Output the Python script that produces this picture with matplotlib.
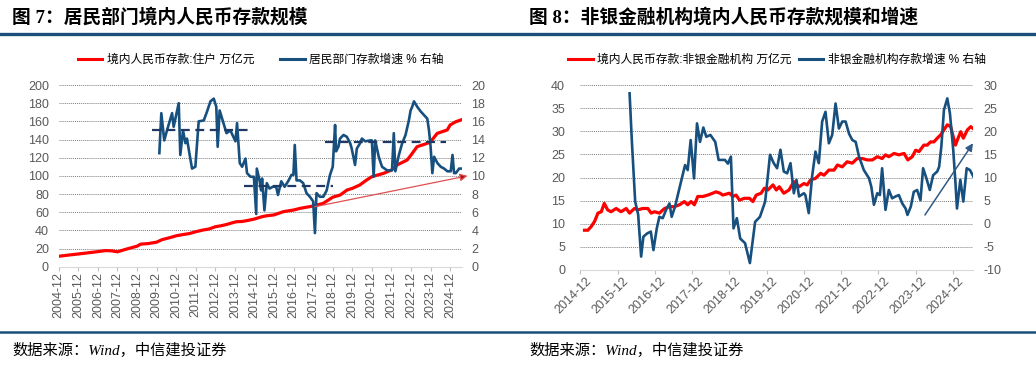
"""Two-panel deposit chart: household / non-bank RMB deposits and growth."""
import matplotlib
matplotlib.use("Agg")
import matplotlib.pyplot as plt
from matplotlib.lines import Line2D
from matplotlib.transforms import ScaledTranslation

plt.rcParams['font.family'] = ['Liberation Sans', 'Noto Sans CJK SC', 'DejaVu Sans']
plt.rcParams['axes.unicode_minus'] = False

# ---- panel 1: household deposits (万亿元, left) and growth (%, right) ----
hh_dep_x = [2004.92, 2005.5, 2005.92, 2006.5, 2006.92, 2007.3, 2007.6, 2007.92, 2008.3, 2008.92,
            2009.1, 2009.5, 2009.92, 2010.2, 2010.6, 2010.92, 2011.3, 2011.6, 2011.92, 2012.3,
            2012.6, 2012.92, 2013.2, 2013.5, 2013.8, 2014.0, 2014.3, 2014.6, 2014.92, 2015.3,
            2015.52, 2015.92, 2016.4, 2016.92, 2017.25, 2017.92, 2018.43, 2018.92, 2019.3, 2019.65,
            2019.92, 2020.3, 2020.65, 2020.92, 2021.52, 2021.92, 2022.2, 2022.72, 2022.92, 2023.23,
            2023.75, 2023.92, 2024.26, 2024.77, 2024.92, 2025.21, 2025.47]
hh_dep = [11.5, 13, 14, 15.5, 16.6, 17.7, 17.5, 16.4, 18.9, 22.6,
          24.8, 25.5, 27, 29.8, 32, 34, 35.5, 36.5, 38.5, 40.4,
          41.5, 44, 45, 46.5, 48.4, 49.5, 49.8, 51, 52.5, 55,
          56, 57, 60.6, 62.4, 64.2, 66.8, 69.7, 76.5, 78.9, 84.4,
          86.2, 89.9, 95.4, 99.1, 102.8, 106.4, 111.9, 117.4, 122.9, 132.1,
          135.8, 137.6, 146.8, 150.5, 156, 159.6, 161.5]

hh_gr_x = [2010.06, 2010.16, 2010.31, 2010.45, 2010.71, 2010.79, 2011.05, 2011.13, 2011.27, 2011.39,
           2011.47, 2011.61, 2011.73, 2011.9, 2012.07, 2012.33, 2012.5, 2012.67, 2012.84, 2012.97,
           2013.04, 2013.14, 2013.31, 2013.49, 2013.69, 2013.95, 2014.03, 2014.17, 2014.29, 2014.46,
           2014.54, 2014.72, 2014.89, 2015.01, 2015.04, 2015.18, 2015.26, 2015.31, 2015.43, 2015.55,
           2015.69, 2015.86, 2016.03, 2016.12, 2016.29, 2016.46, 2016.64, 2016.81, 2016.91, 2016.98,
           2017.07, 2017.24, 2017.41, 2017.58, 2017.75, 2017.92, 2018.01, 2018.09, 2018.26, 2018.44,
           2018.61, 2018.78, 2018.92, 2019.04, 2019.09, 2019.21, 2019.29, 2019.47, 2019.64, 2019.81,
           2019.89, 2020.06, 2020.15, 2020.32, 2020.41, 2020.58, 2020.84, 2020.92, 2021.01, 2021.09,
           2021.27, 2021.44, 2021.7, 2021.95, 2022.04, 2022.12, 2022.3, 2022.47, 2022.64, 2022.81,
           2022.9, 2022.98, 2023.07, 2023.24, 2023.41, 2023.58, 2023.75, 2023.84, 2023.92, 2024.01,
           2024.1, 2024.27, 2024.44, 2024.61, 2024.78, 2024.95, 2025.04, 2025.12, 2025.21, 2025.38,
           2025.47]
hh_gr = [12.5, 16.9, 13.9, 15.0, 16.9, 15.4, 18.0, 12.3, 15.0, 13.6,
         14.1, 12.3, 10.8, 11.0, 16.0, 16.1, 17.1, 18.2, 18.5, 17.6,
         13.2, 17.2, 16.0, 14.7, 15.0, 13.8, 15.8, 11.4, 11.0, 11.9,
         10.3, 9.9, 9.9, 5.8, 10.8, 9.5, 8.4, 9.7, 6.2, 9.2,
         8.6, 8.8, 8.8, 7.9, 9.4, 8.8, 9.4, 10.1, 10.1, 13.4,
         9.5, 9.5, 9.2, 8.1, 7.7, 7.2, 3.7, 8.1, 7.7, 7.7,
         8.4, 10.1, 11.0, 15.6, 12.7, 13.2, 14.1, 14.5, 14.3, 13.6,
         13.0, 11.2, 13.0, 13.6, 14.1, 13.8, 13.9, 13.9, 9.9, 13.9,
         12.1, 11.0, 10.6, 10.6, 14.7, 10.5, 12.3, 13.6, 14.5, 16.1,
         17.2, 17.6, 18.2, 17.6, 17.1, 16.7, 16.3, 15.0, 13.2, 10.3,
         12.1, 11.4, 11.0, 10.8, 10.5, 10.5, 12.3, 10.3, 10.3, 10.8,
         10.8]

# period averages (dashed) and trend arrow, right-axis units
hh_avg_start = [2009.68, 2014.37, 2018.52]
hh_avg_end = [2014.63, 2018.92, 2024.70]
hh_avg = [15.1, 8.9, 13.75]
hh_arrow_from = (2018.0, 6.6)
hh_arrow_to = (2025.81, 10.0)

# ---- panel 2: non-bank financial institutions ----
nb_dep_x = [2015.03, 2015.12, 2015.21, 2015.30, 2015.39, 2015.48, 2015.56, 2015.65, 2015.74, 2015.88,
            2016.01, 2016.15, 2016.24, 2016.37, 2016.46, 2016.59, 2016.73, 2016.82, 2016.91, 2017.04,
            2017.18, 2017.31, 2017.44, 2017.58, 2017.71, 2017.80, 2017.89, 2017.98, 2018.07, 2018.21,
            2018.34, 2018.47, 2018.56, 2018.67, 2018.74, 2018.92, 2019.01, 2019.10, 2019.19, 2019.32,
            2019.46, 2019.55, 2019.64, 2019.77, 2019.86, 2019.95, 2020.09, 2020.18, 2020.26, 2020.38,
            2020.52, 2020.65, 2020.79, 2020.92, 2021.01, 2021.10, 2021.23, 2021.37, 2021.46, 2021.59,
            2021.73, 2021.82, 2021.95, 2022.08, 2022.22, 2022.35, 2022.49, 2022.62, 2022.76, 2022.89,
            2023.02, 2023.11, 2023.20, 2023.34, 2023.47, 2023.61, 2023.71, 2023.83, 2023.92, 2024.01,
            2024.14, 2024.23, 2024.32, 2024.41, 2024.50, 2024.59, 2024.68, 2024.77, 2024.86, 2024.93,
            2024.99, 2025.04, 2025.13, 2025.20, 2025.31, 2025.40, 2025.46]
nb_dep = [8.6, 8.6, 9.4, 10.5, 12.3, 12.6, 14.4, 13.0, 12.6, 13.3,
          12.6, 13.3, 12.3, 13.3, 13.0, 13.3, 13.3, 12.3, 12.6, 12.3,
          13.3, 13.7, 13.7, 14.1, 14.8, 14.1, 14.8, 14.1, 15.9, 15.9,
          16.2, 16.6, 16.9, 16.6, 16.2, 16.6, 15.9, 16.2, 15.1, 15.5,
          15.5, 14.8, 16.2, 16.6, 17.7, 17.3, 18.4, 17.3, 18.0, 16.6,
          17.3, 19.1, 18.0, 18.7, 18.4, 19.5, 19.8, 20.9, 20.5, 21.6,
          21.6, 22.7, 22.3, 23.4, 23.1, 24.1, 24.1, 23.8, 23.8, 24.5,
          24.1, 24.9, 24.5, 25.2, 24.9, 25.2, 23.8, 24.5, 25.9, 25.6,
          27.0, 27.0, 27.7, 27.7, 28.5, 29.2, 30.3, 31.4, 31.0, 28.8,
          27.0, 28.1, 29.9, 28.5, 30.3, 31.0, 30.6]

nb_gr_x = [2016.24, 2016.30, 2016.39, 2016.47, 2016.55, 2016.61, 2016.71, 2016.81, 2016.88, 2016.97,
           2017.04, 2017.13, 2017.22, 2017.31, 2017.37, 2017.46, 2017.60, 2017.73, 2017.80, 2017.88,
           2017.97, 2018.05, 2018.13, 2018.22, 2018.30, 2018.41, 2018.54, 2018.63, 2018.80, 2018.88,
           2018.96, 2019.03, 2019.12, 2019.21, 2019.34, 2019.47, 2019.61, 2019.74, 2019.88, 2020.01,
           2020.11, 2020.20, 2020.29, 2020.38, 2020.47, 2020.56, 2020.65, 2020.72, 2020.79, 2020.92,
           2020.96, 2021.05, 2021.14, 2021.23, 2021.32, 2021.41, 2021.50, 2021.59, 2021.68, 2021.77,
           2021.86, 2021.95, 2022.04, 2022.13, 2022.22, 2022.31, 2022.40, 2022.53, 2022.67, 2022.73,
           2022.80, 2022.89, 2022.96, 2023.02, 2023.11, 2023.20, 2023.29, 2023.38, 2023.47, 2023.56,
           2023.65, 2023.70, 2023.79, 2023.87, 2023.96, 2024.05, 2024.12, 2024.21, 2024.30, 2024.39,
           2024.50, 2024.55, 2024.61, 2024.68, 2024.77, 2024.84, 2024.93, 2024.99, 2025.03, 2025.12,
           2025.20, 2025.29, 2025.38, 2025.47]
nb_gr = [28.2, 18.0, 4.8, 2.0, -7.1, -2.8, -2.1, -1.7, -5.7, -1.0,
         1.5, 1.2, 3.0, 4.4, 1.5, 3.7, 8.4, 12.7, 11.6, 18.1,
         9.8, 21.7, 17.7, 20.8, 18.8, 19.2, 17.7, 13.8, 13.8, 13.0,
         14.5, -1.0, 1.2, -3.2, -4.2, -8.5, 0.4, 1.5, 4.8, 14.9,
         13.1, 12.0, 16.0, 11.3, 10.9, 13.1, 6.6, 9.5, 5.9, 6.6,
         6.2, 2.3, 10.2, 15.6, 13.1, 22.1, 24.2, 17.4, 19.2, 26.0,
         20.6, 22.1, 22.1, 19.5, 18.1, 17.7, 14.5, 11.6, 9.8, 8.0,
         4.1, 6.6, 6.2, 12.0, 3.0, 7.3, 5.5, 5.9, 6.2, 4.4,
         3.3, 1.9, 3.7, 6.9, 7.3, 5.1, 12.0, 9.8, 7.3, 10.5,
         11.3, 12.3, 16.7, 24.6, 27.1, 23.9, 15.9, 8.7, 3.3, 9.5,
         4.8, 12.0, 11.6, 10.2]
nb_arrow_from = (2024.17, 1.9)
nb_arrow_to = (2025.46, 17.4)

RED = "#FF0000"
BLUE = "#17507E"
NAVY = "#1F3864"
RULE = "#1A4E7A"
TICK = "#595959"

W, H = 1036, 366
fig = plt.figure(figsize=(W / 100, H / 100), dpi=100)


def fx(px):
    return px / W


def fy(py):
    return 1 - py / H


def setup(ax, axr, xlim, years, left_ticks, right_ticks, lpad, rpad):
    ax.set_xlim(*xlim)
    ax.set_ylim(left_ticks[0], left_ticks[-1])
    axr.set_ylim(right_ticks[0], right_ticks[-1])
    ax.set_yticks(left_ticks)
    axr.set_yticks(right_ticks)
    ax.set_xticks([y + 11 / 12 for y in years])
    ax.set_xticklabels([f"{y}-12" for y in years])
    for a in (ax, axr):
        for s in a.spines.values():
            s.set_visible(False)
    ax.spines["bottom"].set_visible(True)
    ax.spines["bottom"].set_color("#D9D9D9")
    ax.grid(axis="y", color="#7F7F7F", lw=0.7, ls=(0, (1, 1)))
    ax.set_axisbelow(True)
    ax.tick_params(axis="y", length=0, labelsize=9, labelcolor=TICK, pad=lpad)
    axr.tick_params(axis="y", length=0, labelsize=9, labelcolor=TICK, pad=rpad)
    ax.tick_params(axis="x", length=3, color="#BFBFBF", labelsize=9, labelcolor=TICK, pad=1)


# ---- panel 1 ----
ax1 = fig.add_axes([fx(58.7), fy(266.7), fx(461.7 - 58.7), (266.7 - 85) / H])
ax1r = ax1.twinx()
setup(ax1, ax1r, (2004.92, 2025.51), range(2004, 2025),
      range(0, 201, 20), range(0, 21, 2), 7, 7)
ax1.tick_params(axis="x", labelrotation=90)
ax1.plot(hh_dep_x, hh_dep, color=RED, lw=2.3, solid_joinstyle="round")
ax1r.plot(hh_gr_x, hh_gr, color=BLUE, lw=1.9, solid_joinstyle="round")
for x0, x1, v in zip(hh_avg_start, hh_avg_end, hh_avg):
    ax1r.plot([x0, x1], [v, v], color=NAVY, lw=1.6, ls=(0, (4, 2.5)), zorder=4)
ax1r.annotate("", xy=hh_arrow_to, xytext=hh_arrow_from, annotation_clip=False,
              arrowprops=dict(arrowstyle="-|>", ec="#E05050", fc="#B01010", lw=0.9,
                              mutation_scale=11, shrinkA=0, shrinkB=0))

ax1.legend([Line2D([], [], color=RED, lw=2.2), Line2D([], [], color=BLUE, lw=2.2)],
           ["境内人民币存款:住户 万亿元", "居民部门存款增速 % 右轴"],
           loc="center", bbox_to_anchor=(fx(260.5), fy(60)), bbox_transform=fig.transFigure,
           ncol=2, frameon=False, fontsize=8.5, handlelength=2.1, handletextpad=0.35,
           columnspacing=2.2, borderaxespad=0, borderpad=0)

# ---- panel 2 ----
ax2 = fig.add_axes([fx(580.3), fy(270), fx(973 - 580.3), (270 - 85) / H])
ax2r = ax2.twinx()
setup(ax2, ax2r, (2014.92, 2025.46), range(2014, 2025),
      range(0, 41, 5), range(-10, 31, 5), 11, 7.5)
ax2.tick_params(axis="x", labelrotation=45)
shift = ScaledTranslation(5 / 100, 0, fig.dpi_scale_trans)
for lab in ax2.get_xticklabels():
    lab.set_ha("right")
    lab.set_rotation_mode("anchor")
    lab.set_transform(lab.get_transform() + shift)
ax2.plot(nb_dep_x, nb_dep, color=RED, lw=2.3, solid_joinstyle="round")
ax2r.plot(nb_gr_x, nb_gr, color=BLUE, lw=1.9, solid_joinstyle="round")
ax2r.annotate("", xy=nb_arrow_to, xytext=nb_arrow_from, annotation_clip=False,
              arrowprops=dict(arrowstyle="-|>", color="#2F5A86", lw=1.1,
                              mutation_scale=11, shrinkA=0, shrinkB=0))

ax2.legend([Line2D([], [], color=RED, lw=2.2), Line2D([], [], color=BLUE, lw=2.2)],
           ["境内人民币存款:非银金融机构 万亿元", "非银金融机构存款增速 % 右轴"],
           loc="center", bbox_to_anchor=(fx(776.8), fy(60)), bbox_transform=fig.transFigure,
           ncol=2, frameon=False, fontsize=8.5, handlelength=2.1, handletextpad=0.35,
           columnspacing=0.6, borderaxespad=0, borderpad=0)

# ---- titles, rules, source ----
title_fam = ["Liberation Serif", "Noto Sans CJK SC"]
fig.text(fx(12), fy(17), "图 7：居民部门境内人民币存款规模", fontsize=13.5,
         fontweight="bold", va="center", family=title_fam)
fig.text(fx(529), fy(17), "图 8：非银金融机构境内人民币存款规模和增速", fontsize=13.5,
         fontweight="bold", va="center", family=title_fam)
fig.add_artist(Line2D([0, 1], [fy(34.3), fy(34.3)], color=RULE, lw=2.4, transform=fig.transFigure))
fig.add_artist(Line2D([0, 1], [fy(332), fy(332)], color=RULE, lw=1.8, transform=fig.transFigure))
src_fam = ["Liberation Serif", "Noto Sans CJK SC"]
for px in (12, 529):
    fig.text(fx(px), fy(350), "数据来源：Wind，中信建投证券", fontsize=11, style="italic",
             va="center", family=src_fam)

fig.savefig("out.png", dpi=100)
